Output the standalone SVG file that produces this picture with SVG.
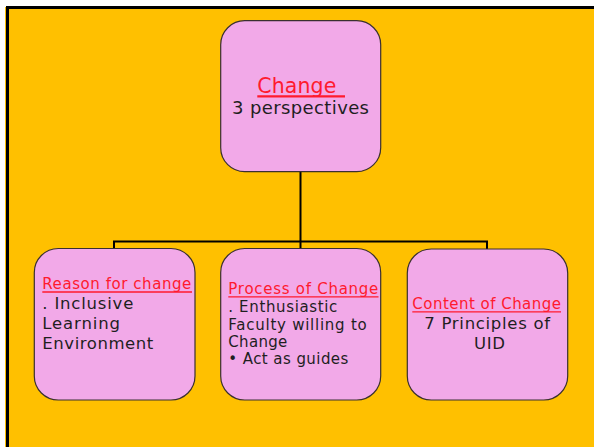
<svg xmlns="http://www.w3.org/2000/svg" width="594" height="447" viewBox="0 0 594 447">
<style>
  .node rect { fill: #F2A9E8; stroke: #3a3030; stroke-width: 1.2; }
  text { font-family: "DejaVu Sans", Verdana, sans-serif; fill: #1f1f1f; }
  text.red { fill: #FF1A2E; font-size: 15px; }
  .ul { stroke: #FF1A2E; stroke-width: 1.3; }
  .body { font-size: 16.5px; }
  .body2 { font-size: 15px; }
  .conn { fill: none; stroke: #000; stroke-width: 2; }
</style>
<rect x="0" y="0" width="594" height="447" fill="#ffffff"/>
<rect x="5" y="7" width="589" height="440" fill="#FFC000"/>
<path d="M7.5 447 V7.5 H594" fill="none" stroke="#000" stroke-width="3"/>

<g id="connectors">
  <path class="conn" d="M300.5 172 V249"/>
  <path class="conn" d="M114 249 V241.5 H487 V249"/>
</g>

<g id="node-change" class="node">
  <rect x="220.7" y="20.7" width="160" height="151" rx="24" ry="24"/>
  <text class="red" x="257.3" y="93.3" style="font-size:20.5px" textLength="79">Change</text>
  <line class="ul" x1="257.3" y1="96.3" x2="345" y2="96.3" style="stroke-width:2.2"/>
  <text x="300.5" y="114.3" font-size="18" text-anchor="middle" textLength="137">3 perspectives</text>
</g>

<g id="node-reason" class="node">
  <rect x="34.3" y="248.5" width="160.7" height="151.5" rx="24" ry="24"/>
  <text class="red" x="42.3" y="289.3" textLength="149">Reason for change</text>
  <line class="ul" x1="42.3" y1="292" x2="192" y2="292"/>
  <text class="body" x="42.3" y="308.5" textLength="91">. Inclusive</text>
  <text class="body" x="42.3" y="328.8" textLength="77.7">Learning</text>
  <text class="body" x="42.3" y="349" textLength="111">Environment</text>
</g>

<g id="node-process" class="node">
  <rect x="220.7" y="248.5" width="160" height="151.5" rx="24" ry="24"/>
  <text class="red" x="228.3" y="294" textLength="150">Process of Change</text>
  <line class="ul" x1="228.3" y1="296.8" x2="378.5" y2="296.8"/>
  <text class="body2" x="228.3" y="312.3" textLength="109">. Enthusiastic</text>
  <text class="body2" x="228.3" y="329.8" textLength="138.4">Faculty willing to</text>
  <text class="body2" x="228.3" y="347" textLength="59">Change</text>
  <text class="body2" x="228.3" y="364.2" textLength="120">• Act as guides</text>
</g>

<g id="node-content" class="node">
  <rect x="407.3" y="249" width="160.4" height="151" rx="24" ry="24"/>
  <text class="red" x="412.3" y="309" textLength="148.7">Content of Change</text>
  <line class="ul" x1="412.3" y1="311.8" x2="561" y2="311.8"/>
  <text class="body" x="487.2" y="329.3" text-anchor="middle" textLength="125.7">7 Principles of</text>
  <text class="body" x="489.5" y="349" text-anchor="middle" textLength="31">UID</text>
</g>
</svg>
